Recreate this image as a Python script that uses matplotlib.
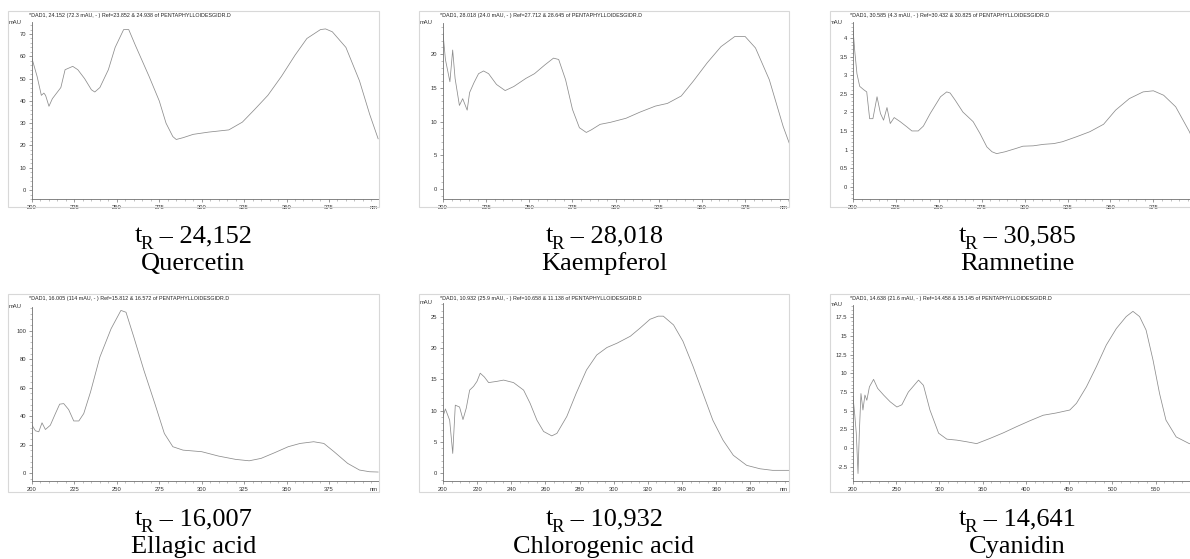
import matplotlib
matplotlib.use("Agg")
import matplotlib.pyplot as plt
from matplotlib.patches import Rectangle
from matplotlib.ticker import MultipleLocator

# ---------------- data ----------------
headers = [
    "*DAD1, 24.152 (72.3 mAU, - ) Ref=23.852 & 24.938 of PENTAPHYLLOIDESGIDR.D",
    "*DAD1, 28.018 (24.0 mAU, - ) Ref=27.712 & 28.645 of PENTAPHYLLOIDESGIDR.D",
    "*DAD1, 30.585 (4.3 mAU, - ) Ref=30.432 & 30.825 of PENTAPHYLLOIDESGIDR.D",
    "*DAD1, 16.005 (114 mAU, - ) Ref=15.812 & 16.572 of PENTAPHYLLOIDESGIDR.D",
    "*DAD1, 10.932 (25.9 mAU, - ) Ref=10.658 & 11.138 of PENTAPHYLLOIDESGIDR.D",
    "*DAD1, 14.638 (21.6 mAU, - ) Ref=14.458 & 15.145 of PENTAPHYLLOIDESGIDR.D",
]
retention_times = ["24,152", "28,018", "30,585", "16,007", "10,932", "14,641"]
compounds = ["Quercetin", "Kaempferol", "Ramnetine", "Ellagic acid", "Chlorogenic acid", "Cyanidin"]

wl_quercetin = [200, 203, 205.5, 207, 208, 210, 212, 214, 217, 219.5, 224, 227, 231, 235, 237, 240, 245,
                249, 254, 257, 261, 269, 275, 279, 283, 285, 289, 295, 304, 316, 324, 331, 339, 347, 355,
                362, 370, 373, 377, 385, 393, 399, 404]
abs_quercetin = [59, 51, 42.5, 43.5, 42.5, 37.6, 41, 43, 46, 54, 55.5, 54, 50, 45, 44, 46, 54,
                 64, 72, 72, 64.8, 51, 40, 30, 24, 22.7, 23.5, 25, 26, 27, 30.5, 36, 42.5, 51, 60.5,
                 68, 72, 72.3, 71, 64, 49, 34, 23]

wl_kaempferol = [200, 201.4, 204, 205.6, 207, 209.5, 211.4, 214, 215.4, 218, 220.6, 223.5, 226.4, 231, 236,
                 241, 248, 253, 259, 264, 267, 271, 275, 279, 283, 286, 291, 297, 306, 314, 323, 330, 338,
                 345, 353, 361, 369, 375, 381, 389, 397, 402]
abs_kaempferol = [23.1, 19.2, 15.9, 20.6, 16.4, 12.4, 13.4, 11.7, 14.3, 15.8, 17.1, 17.5, 17.1, 15.5, 14.6,
                  15.2, 16.4, 17.1, 18.4, 19.4, 19.2, 16.2, 11.8, 9.1, 8.4, 8.8, 9.6, 9.9, 10.5, 11.4, 12.3,
                  12.7, 13.8, 16, 18.7, 21.1, 22.6, 22.6, 20.9, 16.2, 9.3, 5.8]

wl_ramnetine = [200, 201, 202.3, 203.9, 206.2, 208, 209.7, 211.6, 214, 216, 217.8, 219.8, 221.7, 224, 227.5,
                231.4, 234.3, 238, 241, 245, 251, 254.6, 256.6, 259.5, 264, 270, 274, 278, 281, 283.7,
                288.6, 295, 299, 305, 311, 317, 322, 330, 338, 346, 353, 361, 369, 375, 381, 388, 396, 400]
abs_ramnetine = [4.25, 3.66, 3.04, 2.7, 2.61, 2.55, 1.83, 1.83, 2.42, 1.97, 1.79, 2.13, 1.7, 1.86, 1.75,
                 1.61, 1.5, 1.5, 1.63, 1.97, 2.42, 2.55, 2.52, 2.33, 2.01, 1.75, 1.43, 1.07, 0.94, 0.89,
                 0.94, 1.03, 1.09, 1.1, 1.14, 1.16, 1.21, 1.34, 1.48, 1.68, 2.06, 2.37, 2.55, 2.58, 2.46,
                 2.15, 1.48, 1.05]

wl_ellagic = [200, 202, 204, 205.9, 207.9, 210.8, 213.8, 216.3, 218.7, 221.6, 224.6, 227.6, 230.5, 234.5,
              240, 246.6, 252.4, 255.4, 260, 266, 272.4, 278, 283, 289, 300, 310, 320, 328, 335, 343, 351,
              358, 366, 372, 378, 386, 393, 399, 404]
abs_ellagic = [33.6, 29.7, 29, 35.3, 30.6, 33.6, 41.8, 48.4, 48.8, 44.6, 36.6, 36.6, 41.8, 57,
               81.5, 101.4, 114.3, 113, 95.6, 72, 48.8, 27.8, 18.5, 16.1, 15, 11.9, 9.6, 8.6, 10.3, 14.3,
               18.5, 20.8, 22, 20.8, 15, 6.8, 2.1, 0.9, 0.7]

wl_chlorogenic = [200, 201.4, 203.9, 205.7, 207.2, 209.7, 211.7, 213.6, 215.6, 217.9, 219.9, 221.8, 224.2,
                  226.7, 231.6, 235.5, 241.3, 247.2, 251, 255, 258.9, 263.7, 266.7, 272.5, 278, 284, 290,
                  296, 302, 309.7, 315.4, 321.2, 326, 329, 335, 340.5, 346.4, 352.2, 358, 364, 370, 377.8,
                  385.6, 393, 402.6]
abs_chlorogenic = [9.1, 10.3, 8.5, 3.2, 10.9, 10.6, 8.6, 10.4, 13.3, 13.9, 14.7, 16, 15.4,
                   14.5, 14.7, 14.9, 14.5, 13.3, 11.2, 8.5, 6.7, 6, 6.4, 9.1, 12.8, 16.5, 18.9,
                   20.1, 20.8, 21.9, 23.2, 24.6, 25.1, 25.1, 23.7, 21.1, 17.1, 12.8, 8.5, 5.3, 2.9, 1.3,
                   0.75, 0.5, 0.5]

wl_cyanidin = [200, 201.9, 203.8, 205.8, 207.3, 209.2, 211.5, 213.8, 216, 219, 223.8, 228.5, 235.4, 243,
               250.8, 256.5, 264, 275.8, 281.5, 289, 299, 308.5, 320, 331.5, 343, 358.5, 374, 389, 404.6,
               420, 435, 450.8, 458.5, 470, 481.5, 493, 504.6, 516, 523.8, 531.5, 539, 547, 554.6, 562,
               573.8, 589, 600]
abs_cyanidin = [6.9, 4.6, 2.0, -3.4, 2.0, 7.3, 5.1, 7.1, 6.4, 8.2, 9.2, 8.0, 7.1, 6.2,
                5.5, 5.8, 7.5, 9.1, 8.4, 5.1, 2.0, 1.2, 1.07, 0.85, 0.6, 1.3, 2.05, 2.86, 3.66,
                4.4, 4.7, 5.1, 6.0, 8.2, 10.9, 13.8, 16.0, 17.6, 18.3, 17.6, 15.8, 11.8, 7.3, 3.75,
                1.5, 0.6, 0.4]

series = [(wl_quercetin, abs_quercetin), (wl_kaempferol, abs_kaempferol), (wl_ramnetine, abs_ramnetine),
          (wl_ellagic, abs_ellagic), (wl_chlorogenic, abs_chlorogenic), (wl_cyanidin, abs_cyanidin)]

# ---------------- layout (pixels) ----------------
W, H = 1190, 559
frames = [(8, 11, 379, 207), (419, 11, 789, 207), (830, 11, 1204, 207),
          (8, 294, 379, 492), (419, 294, 789, 492), (830, 294, 1204, 492)]
axes_px = [(32, 22, 379, 199), (443, 23, 789, 199), (853, 22, 1204, 199),
           (32, 307, 379, 481), (443, 303, 789, 481), (853, 305, 1204, 481)]
xlims = [(200, 404.5), (200, 400.4), (200, 404.5), (200, 404.5), (200, 402.6), (200, 606)]
ylims = [(-4, 75.4), (-1.45, 24.6), (-0.33, 4.43), (-5.6, 116.7), (-1.2, 27.2), (-4.4, 19.15)]
xmaj = [25, 25, 25, 25, 20, 50]
xmin = [5, 5, 5, 5, 5, 10]
ymaj = [10, 5, 0.5, 20, 5, 2.5]
ymin = [2, 1, 0.1, 4, 1, 0.5]
title_base = [242, 242, 242, 525, 525, 525]

fig = plt.figure(figsize=(W / 100, H / 100), dpi=100)
fig.patch.set_facecolor('white')
renderer = fig.canvas.get_renderer()

def fx(px):
    return px / W

def fy(py):
    return 1 - py / H

sans = 'Liberation Sans'
serif = 'Liberation Serif'

def text_width_px(s, size):
    t = fig.text(0, 0, s, fontsize=size, fontfamily=serif)
    w = t.get_window_extent(renderer=renderer).width
    t.remove()
    return w

for i in range(6):
    fl, ft, fr, fb = frames[i]
    fig.patches.append(Rectangle((fx(fl), fy(fb)), fx(fr - fl), (fb - ft) / H,
                                 transform=fig.transFigure, fill=False,
                                 edgecolor='#d8d8d8', linewidth=0.8, zorder=0))
    al, at, ar, ab = axes_px[i]
    ax = fig.add_axes([fx(al), fy(ab), fx(ar - al), (ab - at) / H])
    ax.patch.set_alpha(0)
    x, y = series[i]
    ax.plot(x, y, color='#8c8c8c', lw=0.55)
    ax.set_xlim(*xlims[i])
    ax.set_ylim(*ylims[i])
    for s in ['top', 'right']:
        ax.spines[s].set_visible(False)
    for s in ['left', 'bottom']:
        ax.spines[s].set_color('#707070')
        ax.spines[s].set_linewidth(0.6)
    ax.xaxis.set_major_locator(MultipleLocator(xmaj[i]))
    ax.xaxis.set_minor_locator(MultipleLocator(xmin[i]))
    ax.yaxis.set_major_locator(MultipleLocator(ymaj[i]))
    ax.yaxis.set_minor_locator(MultipleLocator(ymin[i]))
    ax.tick_params(which='major', length=2.5, width=0.5, color='#707070',
                   labelsize=4.2, labelcolor='#333333', pad=1.5)
    ax.tick_params(which='minor', length=1.3, width=0.4, color='#909090')
    xt = [t for t in ax.get_xticks() if xlims[i][0] <= t <= xlims[i][1] - 0.06 * (xlims[i][1] - xlims[i][0])]
    ax.set_xticks(xt)
    ax.set_xticklabels([('%g' % t) for t in xt], fontfamily=sans, fontsize=4.2, color='#333333')
    yt = [t for t in ax.get_yticks() if ylims[i][0] <= t <= ylims[i][1]]
    ax.set_yticks(yt)
    ax.set_yticklabels([('%g' % t) for t in yt], fontfamily=sans, fontsize=4.2, color='#333333')
    ax.text(-0.03, 1.0, 'mAU', transform=ax.transAxes, ha='right', va='center',
            fontsize=4.2, fontfamily=sans, color='#333333')
    if ar <= W:
        ax.text(0.995, -0.035, 'nm', transform=ax.transAxes, ha='right', va='top',
                fontsize=4.2, fontfamily=sans, color='#333333')
    fig.text(fx(al - 3), fy(ft + 4.5), headers[i], ha='left', va='center',
             fontsize=3.9, fontfamily=sans, color='#222222')

    # title: t with subscript R, then dash and retention time
    cxp = (fl + fr) / 2
    big, small = 19, 13.5
    w_t = text_width_px('t', big)
    w_r = text_width_px('R', small)
    rest = ' \u2013 ' + retention_times[i]
    w_rest = text_width_px(rest, big)
    overlap = 1.5
    total = w_t + w_r - overlap + w_rest
    x0 = cxp - total / 2
    base = title_base[i]
    fig.text(fx(x0), fy(base), 't', ha='left', va='baseline', fontsize=big,
             fontfamily=serif, color='black')
    fig.text(fx(x0 + w_t - overlap), fy(base + 7), 'R', ha='left', va='baseline', fontsize=small,
             fontfamily=serif, color='black')
    fig.text(fx(x0 + w_t - overlap + w_r), fy(base), rest, ha='left', va='baseline', fontsize=big,
             fontfamily=serif, color='black')
    fig.text(fx(cxp), fy(base + 28), compounds[i],
             ha='center', va='baseline', fontsize=big, fontfamily=serif, color='black')

fig.savefig('out.png', dpi=100, facecolor='white')
